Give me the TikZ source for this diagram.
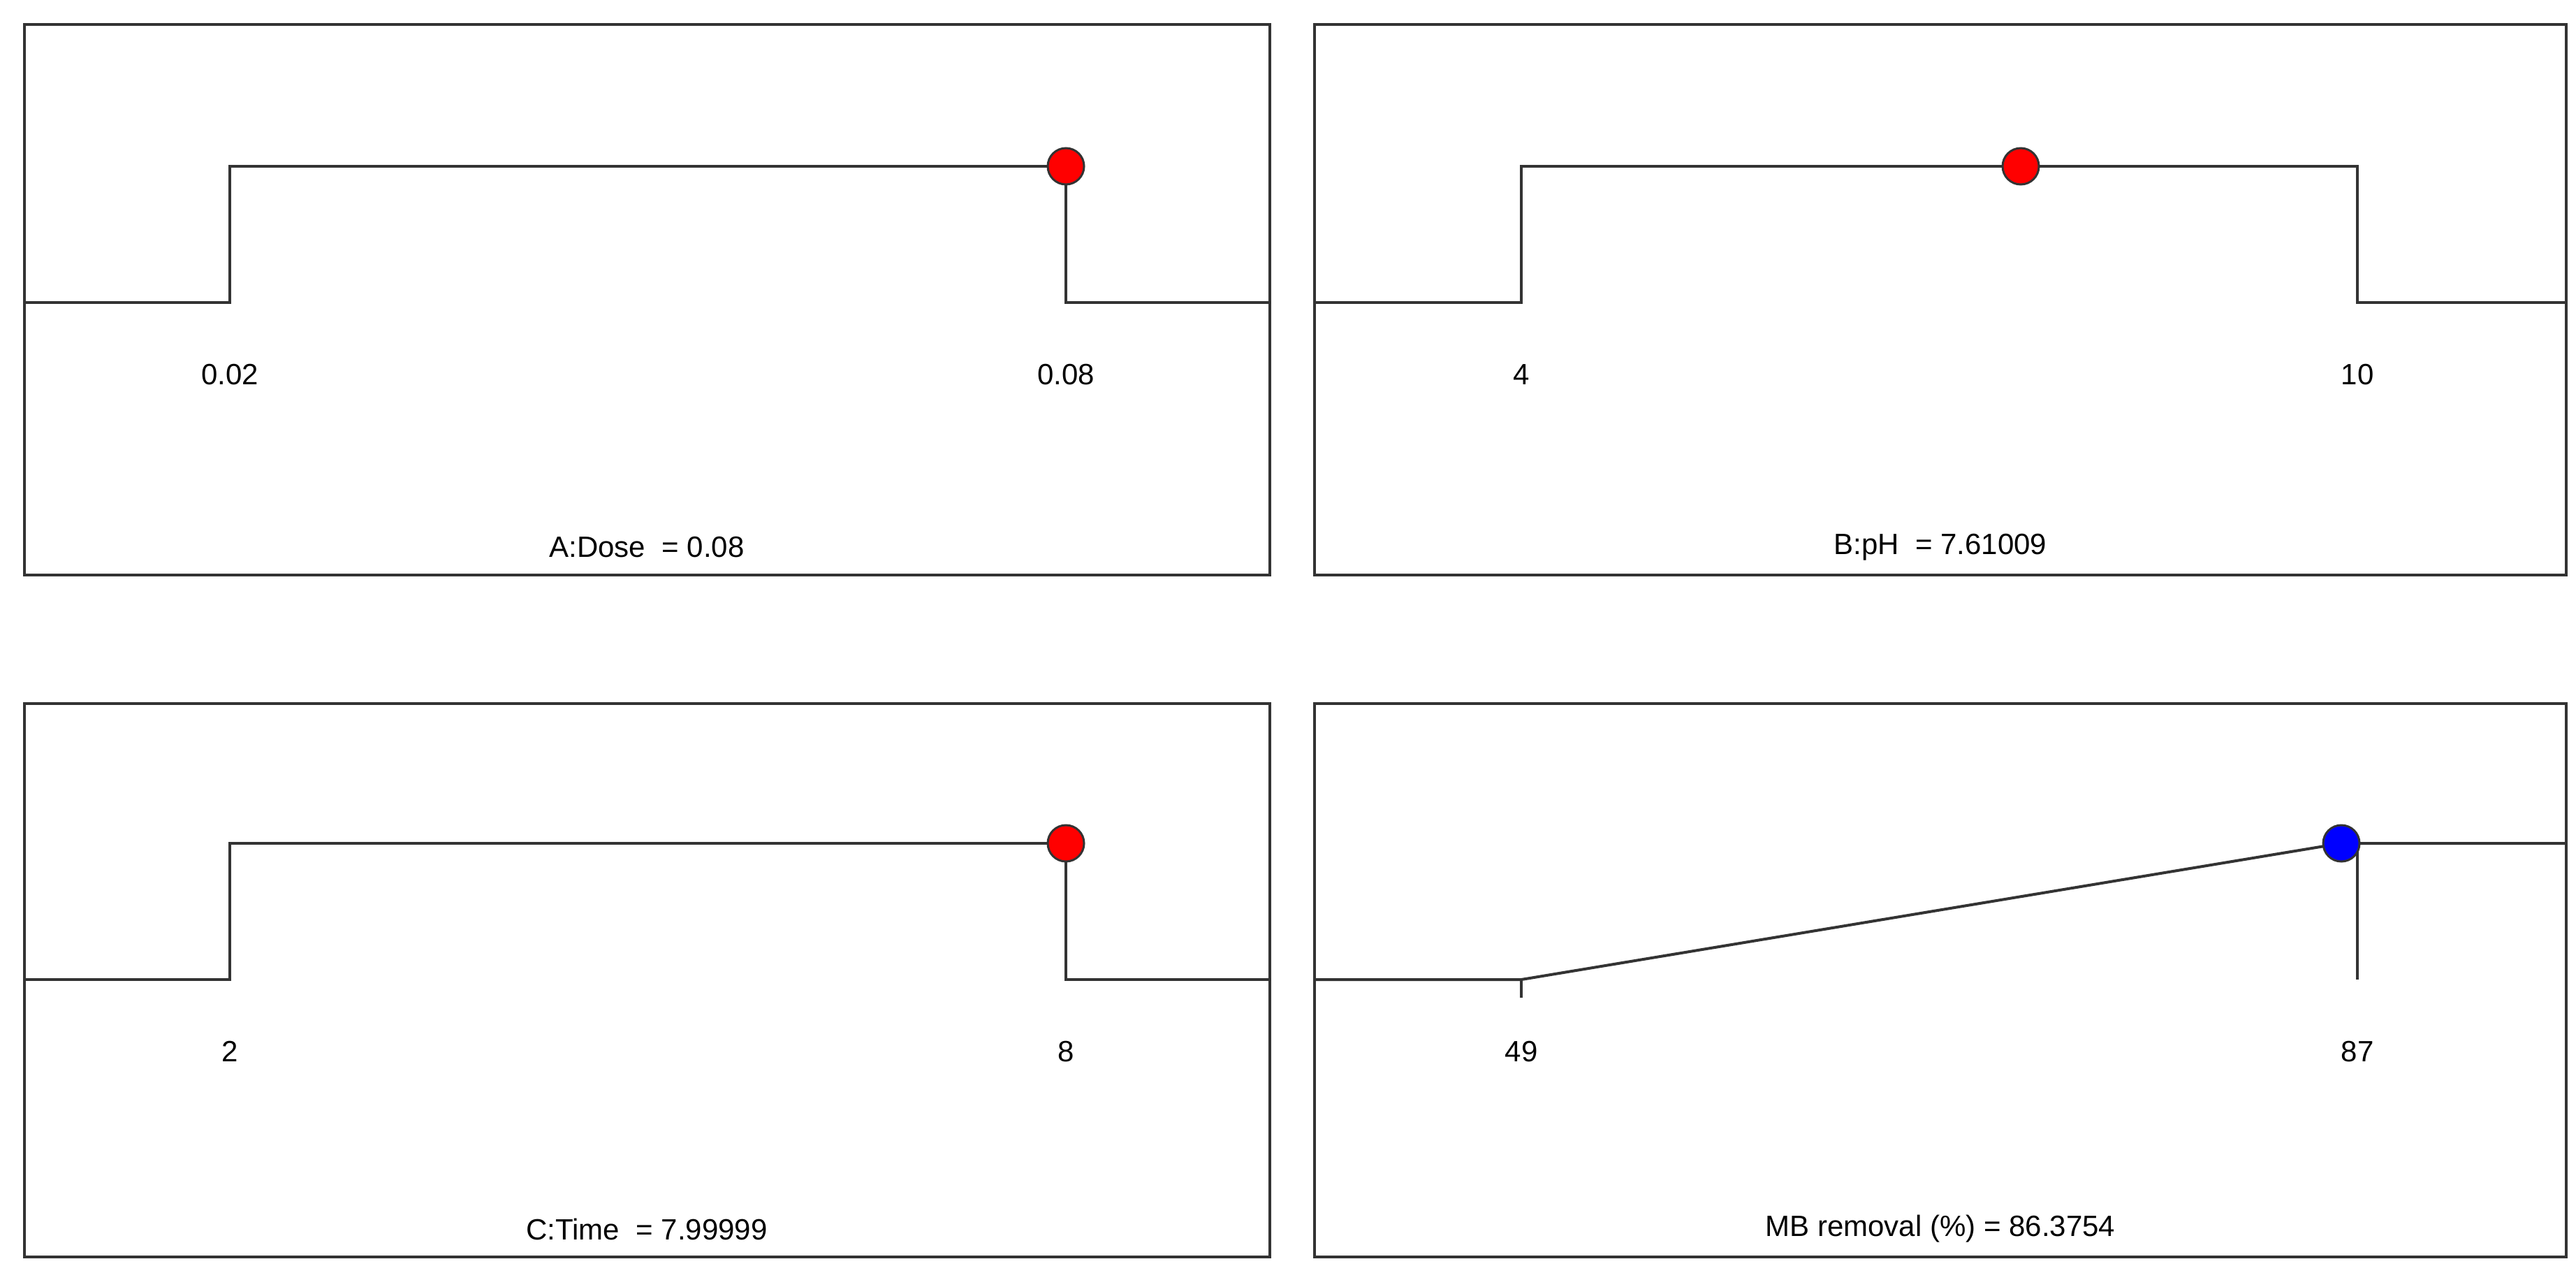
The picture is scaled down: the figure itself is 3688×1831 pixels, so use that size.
\documentclass[tikz,border=0pt]{standalone}
\usepackage{fontspec}
\setmainfont{Liberation Sans}
\begin{document}
\begin{tikzpicture}[x=1pt,y=-1pt,
  frame/.style={draw=black!80,line width=4pt},
  curve/.style={draw=black!80,line width=4pt},
  lbl/.style={font=\fontsize{42}{48}\selectfont,inner sep=0pt},
  rdot/.style={circle,fill=red,draw=black!80,line width=3pt,minimum size=52pt,inner sep=0pt},
  bdot/.style={circle,fill=blue,draw=black!80,line width=3pt,minimum size=52pt,inner sep=0pt}]
\useasboundingbox (0,0) rectangle (3688,1831);
% frames
\draw[frame] (35,35) rectangle (1818,823);
\draw[frame] (1882,35) rectangle (3674,823);
\draw[frame] (35,1007) rectangle (1818,1799);
\draw[frame] (1882,1007) rectangle (3674,1799);
% A
\draw[curve] (35,433) -- (329,433) -- (329,238) -- (1526,238) -- (1526,433) -- (1818,433);
\node[rdot] (da) at (1526,238) {};
\node[lbl] (a1) at (329,536) {0.02};
\node[lbl] (a2) at (1526,536) {0.08};
\node[lbl] (a3) at (926,783) {A:Dose\ \ = 0.08};
% B
\draw[curve] (1882,433) -- (2178,433) -- (2178,238) -- (3375,238) -- (3375,433) -- (3674,433);
\node[rdot] (db) at (2893,238) {};
\node[lbl] (b1) at (2178,536) {4};
\node[lbl] (b2) at (3375,536) {10};
\node[lbl] (b3) at (2778,783) {B:pH\ \ = 7.61009};
% C
\draw[curve] (35,1402) -- (329,1402) -- (329,1207) -- (1526,1207) -- (1526,1402) -- (1818,1402);
\node[rdot] (dc) at (1526,1207) {};
\node[lbl] (c1) at (329,1505) {2};
\node[lbl] (c2) at (1526,1505) {8};
\node[lbl] (c3) at (926,1759) {C:Time\ \ = 7.99999};
% D
\draw[curve] (1882,1402) -- (2178,1402) -- (3352,1207) -- (3674,1207);
\draw[curve] (2178,1402) -- (2178,1428);
\draw[curve] (3375,1207) -- (3375,1402);
\node[bdot] (dd) at (3352,1207) {};
\node[lbl] (d1) at (2178,1505) {49};
\node[lbl] (d2) at (3375,1505) {87};
\node[lbl] (d3) at (2778,1759) {MB removal (\%) = 86.3754};
\end{tikzpicture}
\end{document}
